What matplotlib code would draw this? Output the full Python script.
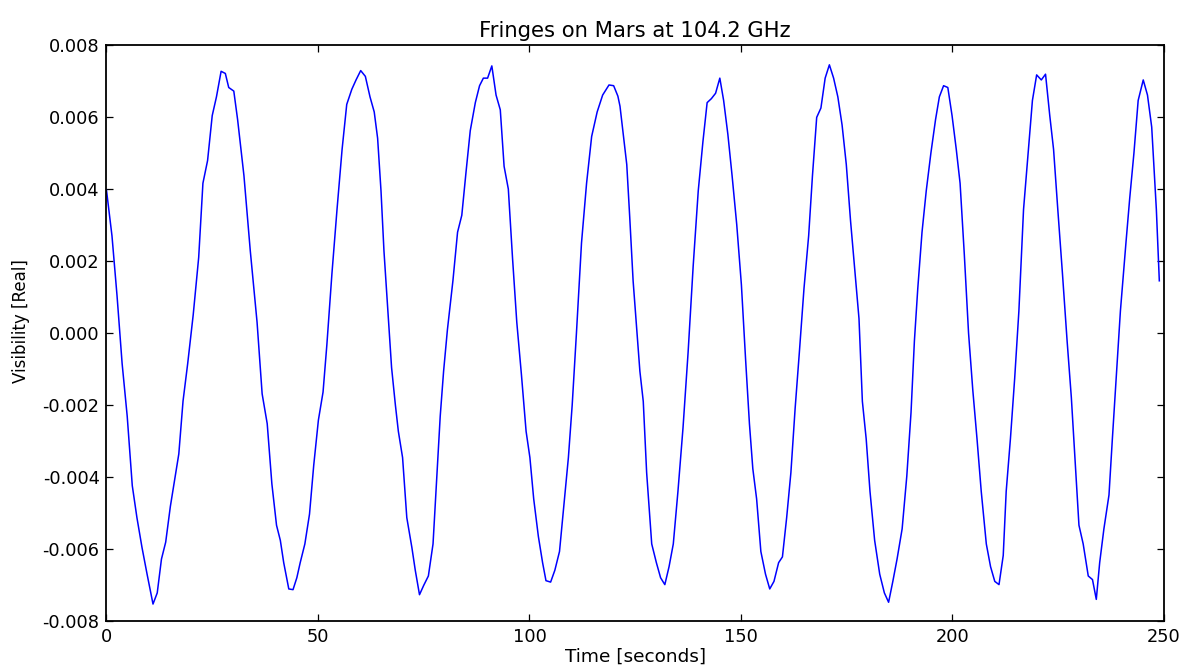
import matplotlib
matplotlib.use("Agg")
import matplotlib.pyplot as plt

# Time samples (seconds)
time_s = [
    0, 1.3, 2.5, 3.7, 4.9, 6.1, 7.2, 8.4, 9.6, 11.0,
    12.0, 13.0, 14.0, 15.1, 17.1, 18.1, 19.2, 20.5, 21.8, 22.8,
    23.9, 25.0, 26.0, 27.1, 28.1, 28.9, 30.1, 31.0, 32.5, 34.0,
    35.6, 36.8, 38.0, 39.1, 40.2, 41.1, 41.9, 43.1, 44.1, 45.0,
    45.8, 46.9, 48.0, 49.0, 50.1, 51.2, 52.1, 53.3, 54.5, 55.7,
    56.8, 58.0, 59.0, 60.1,
    61.2, 62.3, 63.3, 64.1, 64.9, 65.6, 66.4, 67.4, 68.3, 69.0,
    70.0, 71.0, 72.2, 73.0, 74.0, 75.0, 76.1, 77.2, 78.1, 78.9,
    79.7, 80.6, 81.9, 83.0, 84.0, 85.0, 86.0, 87.2, 88.2, 89.1,
    90.1, 91.1, 92.1, 93.1, 94.0, 95.0, 96.0, 97.0, 98.1, 99.2,
    100.1, 101.0, 102.1, 103.1, 103.9, 105.0, 106.0, 107.1, 108.2, 109.2,
    110.1, 111.1, 112.3, 113.5, 114.7, 116.0, 117.3, 118.8, 119.9, 120.9,
    121.4, 123.0, 123.7, 124.5, 125.3, 126.1, 126.9, 127.7, 128.9, 130.0,
    131.0, 132.0, 133.0, 134.0, 135.1, 136.3, 137.5, 138.7, 139.9, 141.0,
    142.0, 143.0, 144.0, 145.0, 145.9, 146.9, 147.9, 149.0, 150.1, 151.1,
    152.0, 152.8, 153.7, 154.7, 155.8, 156.8, 157.8, 158.9, 159.8, 160.8,
    161.8, 162.8, 163.8, 164.9, 166.0, 166.9, 167.9, 168.9, 169.9, 170.9,
    171.9, 172.9, 173.9, 174.9, 175.9, 176.9, 177.9, 178.7, 179.6, 180.5,
    181.6, 182.8, 183.9, 184.9,
    185.9, 186.9, 188.1, 189.2, 190.2, 191.0, 191.8, 192.8, 193.8, 194.9,
    196.0, 196.9, 197.9, 198.9, 199.9, 200.9, 201.8, 202.8, 203.8, 204.8,
    205.8, 206.8, 208.0, 209.0, 210.0, 211.0, 212.0, 212.7, 213.7, 214.7,
    215.7, 216.8, 217.9, 218.9, 219.9, 221.0, 222.0, 223.0, 223.9, 224.9,
    226.0, 227.1, 228.1, 229.1, 229.9, 230.9, 232.1, 233.1, 234.0, 234.8,
    235.8, 237.0, 237.8, 238.8, 239.7, 241.0, 241.9, 242.9, 243.9, 245.1,
    246.1, 247.1, 247.6, 248.2, 248.9,
]

# Real part of the visibility
visibility_real = [
    0.00397, 0.00270, 0.00103, -0.00085, -0.00231, -0.00424, -0.00513, -0.00596, -0.00670, -0.00753,
    -0.00722, -0.00628, -0.00581, -0.00482, -0.00336, -0.00189, -0.00085, 0.00050, 0.00210, 0.00416,
    0.00479, 0.00604, 0.00656, 0.00727, 0.00721, 0.00682, 0.00672, 0.00593, 0.00437, 0.00228,
    0.00030, -0.00169, -0.00252, -0.00419, -0.00534, -0.00576, -0.00638, -0.00711, -0.00713, -0.00680,
    -0.00638, -0.00586, -0.00503, -0.00367, -0.00242, -0.00164, -0.00033, 0.00165, 0.00343, 0.00510,
    0.00635, 0.00677, 0.00703, 0.00729,
    0.00713, 0.00656, 0.00614, 0.00541, 0.00395, 0.00228, 0.00082, -0.00096, -0.00200, -0.00273,
    -0.00346, -0.00513, -0.00596, -0.00659, -0.00727, -0.00701, -0.00675, -0.00586, -0.00398, -0.00231,
    -0.00106, 0.00009, 0.00145, 0.00280, 0.00327, 0.00447, 0.00562, 0.00640, 0.00687, 0.00708,
    0.00708, 0.00742, 0.00661, 0.00620, 0.00463, 0.00400, 0.00207, 0.00030, -0.00116, -0.00273,
    -0.00346, -0.00461, -0.00565, -0.00638, -0.00688, -0.00692, -0.00659, -0.00607, -0.00471, -0.00346,
    -0.00200, -0.00001, 0.00250, 0.00416, 0.00546, 0.00614, 0.00661, 0.00689, 0.00687, 0.00658,
    0.00630, 0.00468, 0.00322, 0.00145, 0.00019, -0.00106, -0.00190, -0.00388, -0.00586, -0.00638,
    -0.00680, -0.00699, -0.00649, -0.00586, -0.00440, -0.00263, -0.00054, 0.00186, 0.00395, 0.00531,
    0.00640, 0.00651, 0.00666, 0.00708, 0.00646, 0.00552, 0.00437, 0.00301, 0.00134, -0.00075,
    -0.00252, -0.00377, -0.00461, -0.00607, -0.00670, -0.00711, -0.00690, -0.00638, -0.00622, -0.00513,
    -0.00388, -0.00210, -0.00054, 0.00124, 0.00270, 0.00437, 0.00599, 0.00625, 0.00708, 0.00745,
    0.00708, 0.00656, 0.00578, 0.00468, 0.00312, 0.00176, 0.00040, -0.00190, -0.00294, -0.00440,
    -0.00576, -0.00670, -0.00722, -0.00748,
    -0.00690, -0.00628, -0.00544, -0.00398, -0.00221, -0.00022, 0.00124, 0.00280, 0.00395, 0.00500,
    0.00593, 0.00656, 0.00687, 0.00682, 0.00604, 0.00510, 0.00416, 0.00218, 0.00000, -0.00158,
    -0.00294, -0.00440, -0.00586, -0.00649, -0.00690, -0.00699, -0.00618, -0.00440, -0.00294, -0.00127,
    0.00061, 0.00343, 0.00500, 0.00646, 0.00717, 0.00703, 0.00719, 0.00604, 0.00510, 0.00343,
    0.00165, -0.00022, -0.00179, -0.00377, -0.00534, -0.00586, -0.00675, -0.00685, -0.00740, -0.00638,
    -0.00544, -0.00450, -0.00294, -0.00106, 0.00061, 0.00249, 0.00374, 0.00500, 0.00646, 0.00703,
    0.00661, 0.00572, 0.00468, 0.00343, 0.00145,
]

x_ticks = [0, 50, 100, 150, 200, 250]
y_ticks = [-0.008, -0.006, -0.004, -0.002, 0.000, 0.002, 0.004, 0.006, 0.008]
y_tick_labels = ["-0.008", "-0.006", "-0.004", "-0.002", "0.000",
                 "0.002", "0.004", "0.006", "0.008"]

plt.rcParams["font.family"] = ["DejaVu Sans"]

fig = plt.figure(figsize=(11.87, 6.65), dpi=100, facecolor="white")
ax = fig.add_axes([0.0897, 0.0662, 0.8909, 0.8661])

ax.plot(time_s, visibility_real, color="#0000ff", linewidth=1.1)

ax.set_xlim(0, 250)
ax.set_ylim(-0.008, 0.008)
ax.set_xticks(x_ticks)
ax.set_xticklabels([str(v) for v in x_ticks])
ax.set_yticks(y_ticks)
ax.set_yticklabels(y_tick_labels)

ax.tick_params(direction="in", length=5, width=0.9, labelsize=12.8,
               top=True, right=True, pad=5, colors="black")
for sp in ax.spines.values():
    sp.set_linewidth(1.3)
    sp.set_color("black")

ax.set_title("Fringes on Mars at 104.2 GHz", fontsize=15.2, pad=6)
ax.set_xlabel("Time [seconds]", fontsize=13.3, labelpad=1)
ax.set_ylabel("Visibility [Real]", fontsize=12.0, labelpad=9, y=0.52)

fig.savefig("out.png", dpi=100, facecolor="white")
